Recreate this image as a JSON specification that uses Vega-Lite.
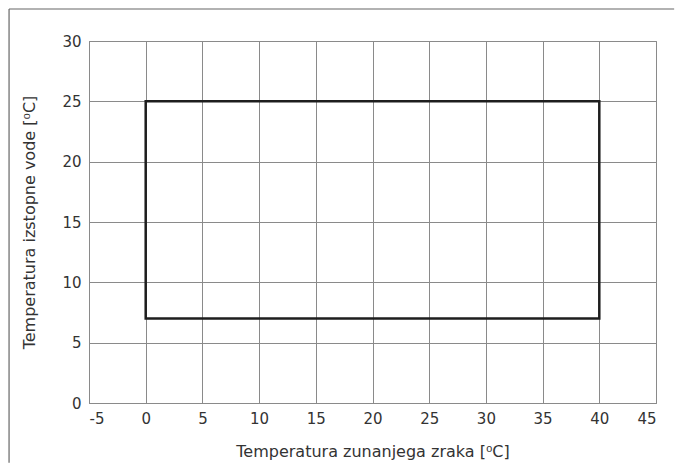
{
  "$schema": "https://vega.github.io/schema/vega-lite/v6.json",
  "width": 567,
  "height": 362,
  "autosize": {"type": "none"},
  "padding": {"left": 89, "top": 41, "right": 19, "bottom": 60},
  "background": "white",
  "config": {
    "view": {"stroke": "#8a8a8a", "strokeWidth": 1},
    "font": "DejaVu Sans",
    "axis": {
      "labelFont": "DejaVu Sans",
      "titleFont": "DejaVu Sans",
      "labelFontSize": 15,
      "titleFontSize": 16,
      "labelColor": "#333333",
      "titleColor": "#333333",
      "titleFontWeight": "normal",
      "gridColor": "#8a8a8a",
      "gridOpacity": 1,
      "gridWidth": 1,
      "domainColor": "#8a8a8a",
      "domainWidth": 1,
      "ticks": false,
      "labelPadding": 8,
      "labelExpr": "replace(datum.label, '−', '-')"
    }
  },
  "layer": [
    {
      "data": {"values": [{"x1": -12.05, "x2": 46.6, "y": 32.65}]},
      "mark": {"type": "rule", "stroke": "#666666", "strokeWidth": 1.2, "clip": false},
      "encoding": {
        "x": {"field": "x1", "type": "quantitative", "scale": {"domain": [-5, 45], "nice": false, "zero": false}},
        "x2": {"field": "x2"},
        "y": {"field": "y", "type": "quantitative", "scale": {"domain": [0, 30], "nice": false, "zero": false}}
      }
    },
    {
      "data": {"values": [{"x": -12.05, "y1": -4.95, "y2": 32.65}]},
      "mark": {"type": "rule", "stroke": "#666666", "strokeWidth": 1.2, "clip": false},
      "encoding": {
        "x": {"field": "x", "type": "quantitative", "scale": {"domain": [-5, 45], "nice": false, "zero": false}},
        "y": {"field": "y1", "type": "quantitative", "scale": {"domain": [0, 30], "nice": false, "zero": false}},
        "y2": {"field": "y2"}
      }
    },
    {
      "data": {"values": [{"x1": 0, "x2": 40, "y1": 7, "y2": 25}]},
      "mark": {"type": "rect", "filled": false, "stroke": "#1e1e1e", "strokeWidth": 2.5},
      "encoding": {
        "x": {
          "field": "x1", "type": "quantitative",
          "scale": {"domain": [-5, 45], "nice": false, "zero": false},
          "axis": {"values": [-5, 0, 5, 10, 15, 20, 25, 30, 35, 40, 45], "title": "Temperatura zunanjega zraka [⁰C]", "titlePadding": 17}
        },
        "x2": {"field": "x2"},
        "y": {
          "field": "y1", "type": "quantitative",
          "scale": {"domain": [0, 30], "nice": false, "zero": false},
          "axis": {"values": [0, 5, 10, 15, 20, 25, 30], "title": "Temperatura izstopne vode [⁰C]", "titlePadding": 24}
        },
        "y2": {"field": "y2"}
      }
    }
  ]
}
